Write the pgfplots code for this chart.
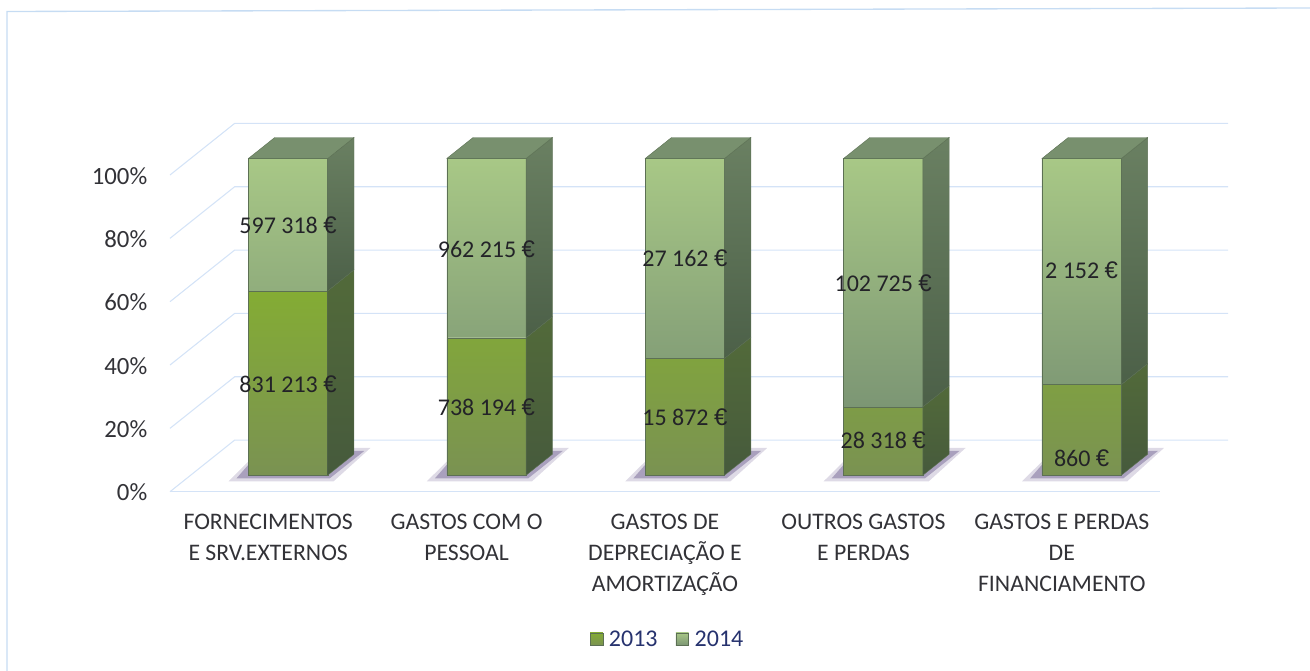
\documentclass[border=0pt]{standalone}
\usepackage{pgfplots}
\pgfplotsset{compat=1.18}
\usepackage{fontspec}
\setmainfont{Carlito}
\newfontfamily\eurofont{Liberation Sans}
\newcommand{\E}{{\eurofont €}}
\definecolor{ftopA}{RGB}{132,172,52}
\definecolor{fbotA}{RGB}{122,146,82}
\definecolor{ftopB}{RGB}{168,200,134}
\definecolor{fbotB}{RGB}{124,150,116}
\definecolor{stopA}{RGB}{82,106,58}
\definecolor{sbotA}{RGB}{70,90,60}
\definecolor{stopB}{RGB}{106,128,98}
\definecolor{sbotB}{RGB}{76,96,72}
\definecolor{topface}{RGB}{120,144,110}
\definecolor{gridblue}{RGB}{212,227,247}
\definecolor{framecol}{RGB}{198,220,243}
\definecolor{shadowcol}{RGB}{160,150,182}
\definecolor{edgecol}{RGB}{92,112,84}
\definecolor{legtext}{RGB}{38,50,110}
\definecolor{ticktext}{RGB}{50,50,55}
\definecolor{valtext}{RGB}{35,35,40}
% share of each year in % (from the euro amounts on the labels)
\pgfplotstableread{
x    a    b
0    58.2 41.8
1    43.4 56.6
2    36.9 63.1
3    21.6 78.4
4    28.6 71.4
}\shares
\newcommand{\basev}{5.21}
\newcommand{\faces}[2]{% centre, share of 2013
  \pgfmathsetmacro{\xr}{#1+0.2}\pgfmathsetmacro{\xb}{#1+0.3326}\pgfmathsetmacro{\xl}{#1-0.2}\pgfmathsetmacro{\xbl}{#1-0.0674}
  \pgfmathsetmacro{\ya}{\basev}\pgfmathsetmacro{\yb}{\basev+#2}\pgfmathsetmacro{\yc}{\basev+100}
  \pgfmathsetmacro{\yab}{\ya+6.63}\pgfmathsetmacro{\ybb}{\yb+6.63}\pgfmathsetmacro{\ycb}{\yc+6.63}
  \addplot[forget plot,draw=edgecol,line width=0.3pt,bottom color=sbotA,top color=stopA] coordinates {(\xr,\ya)(\xb,\yab)(\xb,\ybb)(\xr,\yb)} -- cycle;
  \addplot[forget plot,draw=edgecol,line width=0.3pt,bottom color=sbotB,top color=stopB] coordinates {(\xr,\yb)(\xb,\ybb)(\xb,\ycb)(\xr,\yc)} -- cycle;
  \addplot[forget plot,draw=edgecol,line width=0.3pt,fill=topface] coordinates {(\xl,\yc)(\xr,\yc)(\xb,\ycb)(\xbl,\ycb)} -- cycle;
}
\newcommand{\shadow}[1]{%
  \pgfmathsetmacro{\sa}{#1-0.30}\pgfmathsetmacro{\sb}{#1+0.23}\pgfmathsetmacro{\sc}{#1+0.415}\pgfmathsetmacro{\sd}{#1+0.30}\pgfmathsetmacro{\se}{#1-0.2}
  \addplot[forget plot,draw=none,fill=shadowcol,opacity=0.35] coordinates {(\sa,3.3)(\sb,3.3)(\sc,13.8)(\sd,13.8)(\se,9.5)} -- cycle;
  \pgfmathsetmacro{\sa}{#1-0.26}\pgfmathsetmacro{\sb}{#1+0.21}\pgfmathsetmacro{\sc}{#1+0.385}
  \addplot[forget plot,draw=none,fill=shadowcol,opacity=0.85] coordinates {(\sa,4.2)(\sb,4.2)(\sc,12.9)(\sd,12.9)(\se,8.5)} -- cycle;
}
\newcommand{\wall}[1]{%
  \pgfmathsetmacro{\yy}{#1+16.3}
  \addplot[forget plot,draw=gridblue,line width=0.8pt] coordinates {(-0.595,#1)(-0.269,\yy)(4.738,\yy)};
}
\begin{document}
\begin{tikzpicture}[x=0.75pt,y=0.75pt]
\path[use as bounding box] (-170,-179.3) rectangle (1140,491.7);
\draw[framecol,line width=1pt] (1140,483.7) -- (-163,480.2) -- (-163,-179.3);
\begin{axis}[
  at={(0,0)},anchor=south west,
  scale only axis,width=742.5pt,height=237.525pt,
  xmin=-0.595,xmax=4.395,ymin=0,ymax=100,clip=false,
  axis line style={draw=none},
  tick style={draw=none},
  ytick={0,20,40,60,80,100},
  yticklabels={0\%,20\%,40\%,60\%,80\%,100\%},
  yticklabel style={font=\fontsize{18.6}{22}\selectfont,text=ticktext,xshift=-13.5pt,yshift=-0.7pt},
  xtick={-0.1,0.9,1.9,2.9,3.9},
  xticklabels={{FORNECIMENTOS\\E SRV.EXTERNOS},{GASTOS COM O\\PESSOAL},{GASTOS DE\\DEPRECIAÇÃO E\\AMORTIZAÇÃO},{OUTROS GASTOS\\E PERDAS},{GASTOS E PERDAS\\DE\\FINANCIAMENTO}},
  xticklabel style={font=\fontsize{17.8}{23.25}\selectfont,text=ticktext,align=center,anchor=north,yshift=-13pt},
  legend style={at={(axis description cs:0.503,-0.468)},anchor=center,draw=none,fill=none,legend columns=2,font=\fontsize{18}{22}\selectfont,text=legtext,
    /tikz/every even column/.append style={column sep=11.5pt},
    /tikz/every odd column/.append style={column sep=2.5pt},
    cells={anchor=west}},
  legend cell align=left,
]
% back wall and side wall lines
\wall{0}\wall{20}\wall{40}\wall{60}\wall{80}\wall{100}
\addplot[forget plot,draw=gridblue,line width=1pt] coordinates {(-0.595,0)(4.395,0)};
\shadow{0}\shadow{1}\shadow{2}\shadow{3}\shadow{4}
\addplot[ybar stacked,bar width=0.4,yshift=12.4pt,draw=edgecol,line width=0.3pt,top color=ftopA,bottom color=fbotA,
  legend image code/.code={\fill[draw=edgecol,line width=0.3pt,top color=ftopA,bottom color=fbotA] (0,-16.5pt) rectangle (9.5pt,-7pt);}]
  table[x=x,y=a] {\shares};
\addplot[ybar stacked,bar width=0.4,yshift=12.4pt,draw=edgecol,line width=0.3pt,top color=ftopB,bottom color=fbotB,
  legend image code/.code={\fill[draw=edgecol,line width=0.3pt,top color=ftopB,bottom color=fbotB] (0,-16.5pt) rectangle (9.5pt,-7pt);}]
  table[x=x,y=b] {\shares};
\faces{0}{58.2}\faces{1}{43.4}\faces{2}{36.9}\faces{3}{21.6}\faces{4}{28.6}
\legend{2013,2014}
\begin{scope}[every node/.style={font=\fontsize{18}{22}\selectfont,text=valtext,inner sep=0pt}]
\node at (axis cs:0,84.2) {597 318 \E};
\node at (axis cs:0,34)   {831 213 \E};
\node at (axis cs:1,76.6) {962 215 \E};
\node at (axis cs:1,26.7) {738 194 \E};
\node at (axis cs:2,73.8) {27 162 \E};
\node at (axis cs:2,23.6) {15 872 \E};
\node at (axis cs:3,65.9) {102 725 \E};
\node at (axis cs:3,16.3) {28 318 \E};
\node at (axis cs:4,70)   {2 152 \E};
\node at (axis cs:4,10.6) {860 \E};
\end{scope}
\end{axis}
\end{tikzpicture}
\end{document}
